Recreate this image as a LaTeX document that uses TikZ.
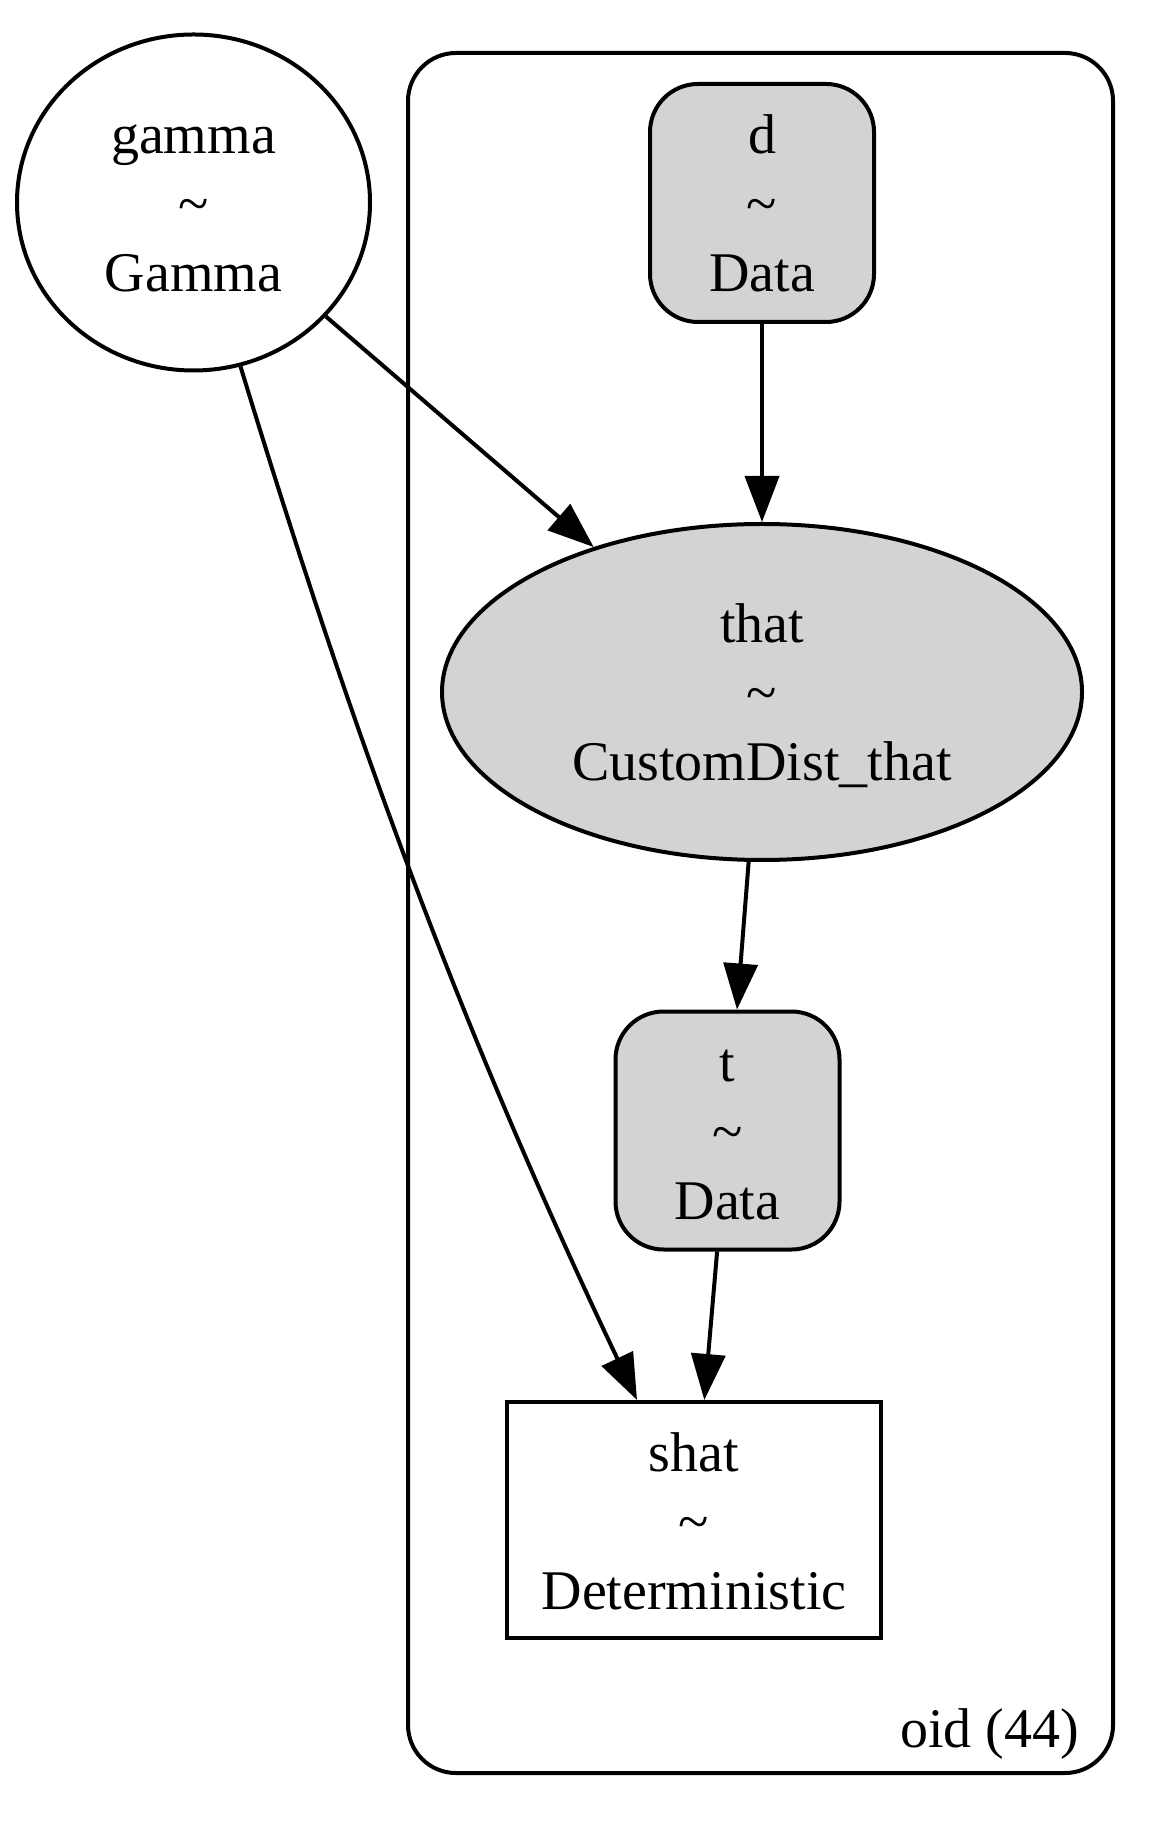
\documentclass[tikz,border=0pt]{standalone}
\usepackage{fontspec}
\setmainfont{Liberation Serif}
\usetikzlibrary{arrows.meta,calc,shapes.geometric}
\definecolor{obsgray}{HTML}{D3D3D3}
\newcommand\vlab[2]{\rule{0pt}{13pt}#1\\\textasciitilde\\#2\rule[-3pt]{0pt}{3pt}}
\begin{document}
\begin{tikzpicture}[x=0.25pt,y=-0.25pt,
  every node/.style={font=\fontsize{14pt}{17.25pt}\selectfont},
  base/.style={draw=black,line width=1pt,inner sep=0pt,align=center},
  freevar/.style={base,ellipse},
  obsellipse/.style={base,ellipse,fill=obsgray},
  databox/.style={base,rectangle,rounded corners=12pt,fill=obsgray,minimum width=56pt,minimum height=59.5pt},
  detbox/.style={base,rectangle},
  plate/.style={draw=black,line width=1pt,rectangle,rounded corners=12pt,inner sep=0pt},
  edge/.style={draw=black,line width=1pt,-{Triangle[length=11.5pt,width=8.5pt]}}]
\useasboundingbox (0,0) rectangle (1165,1826);
% plate
\node[plate,minimum width=176.25pt,minimum height=430pt] (oid) at (760.5,913) {};
\node[anchor=base east,inner sep=0pt] (oidlabel) at ($(oid.south east)+(-35,-28)$) {oid (44)};
% nodes
\node[freevar,minimum width=88.25pt,minimum height=84pt] (gamma) at (193.5,202.5) {\vlab{gamma}{Gamma}};
\node[databox] (d) at (762,203) {\vlab{d}{Data}};
\node[obsellipse,minimum width=160pt,minimum height=84pt] (that) at (762,692) {\vlab{that}{CustomDist\_that}};
\node[databox] (t) at (727.5,1130.5) {\vlab{t}{Data}};
\node[detbox,minimum width=93.5pt,minimum height=59pt] (shat) at (694,1520) {\vlab{shat}{Deterministic}};
% edges
\draw[edge] (gamma) -- (that);
\draw[edge] (d) -- (that);
\draw[edge] (that) -- (t);
\draw[edge] (t) -- (shat);
\draw[edge] (gamma.-74.5) .. controls (357,749) and (465,1038) .. ($(shat.north west)+(132,0)$);
\end{tikzpicture}
\end{document}
